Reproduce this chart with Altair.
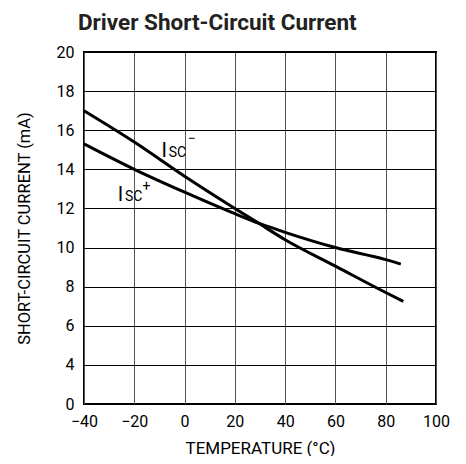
import altair as alt
import pandas as pd

FONT = "Roboto"

# Temperature (°C) and short-circuit current (mA)
temp_minus = [-40, -20, 0, 20, 30, 40, 60, 80, 87]
isc_minus = [17.0, 15.4, 13.65, 12.0, 11.2, 10.4, 9.05, 7.7, 7.25]

temp_plus = [-40, -20, 0, 20, 30, 40, 60, 80, 86]
isc_plus = [15.3, 14.0, 12.83, 11.73, 11.22, 10.78, 10.0, 9.38, 9.15]

# Curve labels: pieces of "I_SC^-" and "I_SC^+"
lbl_x = [-9.2, -6.3, 1.3, -26.6, -23.7, -16.7]
lbl_y = [14.63, 14.63, 15.55, 12.37, 12.37, 13.1]
lbl_text = ["I", "SC", "\u2212", "I", "SC", "+"]
lbl_size = [20, 14, 14, 20, 14, 14]
lbl_base = ["alphabetic", "alphabetic", "middle", "alphabetic", "alphabetic", "middle"]

x_ticks = [-40, -20, 0, 20, 40, 60, 80, 100]
y_ticks = [2, 4, 6, 8, 10, 12, 14, 16, 18, 20]

df = pd.DataFrame({
    "T": temp_minus + temp_plus,
    "I": isc_minus + isc_plus,
    "s": ["minus"] * len(temp_minus) + ["plus"] * len(temp_plus),
})
lbl = pd.DataFrame({"T": lbl_x, "I": lbl_y, "t": lbl_text, "sz": lbl_size, "b": lbl_base})

xs = alt.Scale(domain=[-40, 100], nice=False)
ys = alt.Scale(domain=[2, 20], nice=False)

xax = alt.Axis(values=x_ticks, tickCount=30, format="d", title="TEMPERATURE (°C)", grid=True,
               gridColor="#555", gridWidth=1, gridOpacity=1, ticks=False, domain=False,
               labelPadding=9, labelOverlap=False, labelFlush=False,
               labelFontSize=16, titleFontSize=17, titleFontWeight="normal", titlePadding=11,
               labelFont=FONT, titleFont=FONT, labelColor="#000", titleColor="#000")
yax = alt.Axis(values=y_ticks, tickCount=30, format="d", title="SHORT-CIRCUIT CURRENT (mA)",
               grid=True, gridColor="#000", gridWidth=1, gridOpacity=1, ticks=False,
               domain=False, labelPadding=10, labelOverlap=False, labelFlush=False,
               labelExpr="datum.value == 2 ? '0' : datum.label",
               labelFontSize=16, titleFontSize=16.5, titleFontWeight="normal", titlePadding=24,
               labelFont=FONT, titleFont=FONT, labelColor="#000", titleColor="#000")

lines = alt.Chart(df).mark_line(color="#000", strokeWidth=3, interpolate="monotone").encode(
    x=alt.X("T:Q", scale=xs, axis=xax),
    y=alt.Y("I:Q", scale=ys, axis=yax),
    detail="s:N",
)

def lab(base):
    return alt.Chart(lbl[lbl["b"] == base]).mark_text(
        align="left", baseline=base, font=FONT, color="#000"
    ).encode(
        x=alt.X("T:Q", scale=xs),
        y=alt.Y("I:Q", scale=ys),
        text="t:N",
        size=alt.Size("sz:Q", scale=None, legend=None),
    )

chart = alt.layer(lines, lab("alphabetic"), lab("middle")).properties(
    width=352, height=352,
    title=alt.Title("Driver Short-Circuit Current", anchor="start", frame="group", dx=-6,
                    font=FONT, fontSize=22.5, fontWeight="bold", color="#222", offset=10),
    autosize=alt.AutoSizeParams(type="none"),
    padding={"left": 76, "top": 44, "right": 22, "bottom": 52},
    background="white",
).configure_view(stroke="#000", strokeWidth=2)

chart.save("out.html", embed_options={"renderer": "svg", "actions": False})
